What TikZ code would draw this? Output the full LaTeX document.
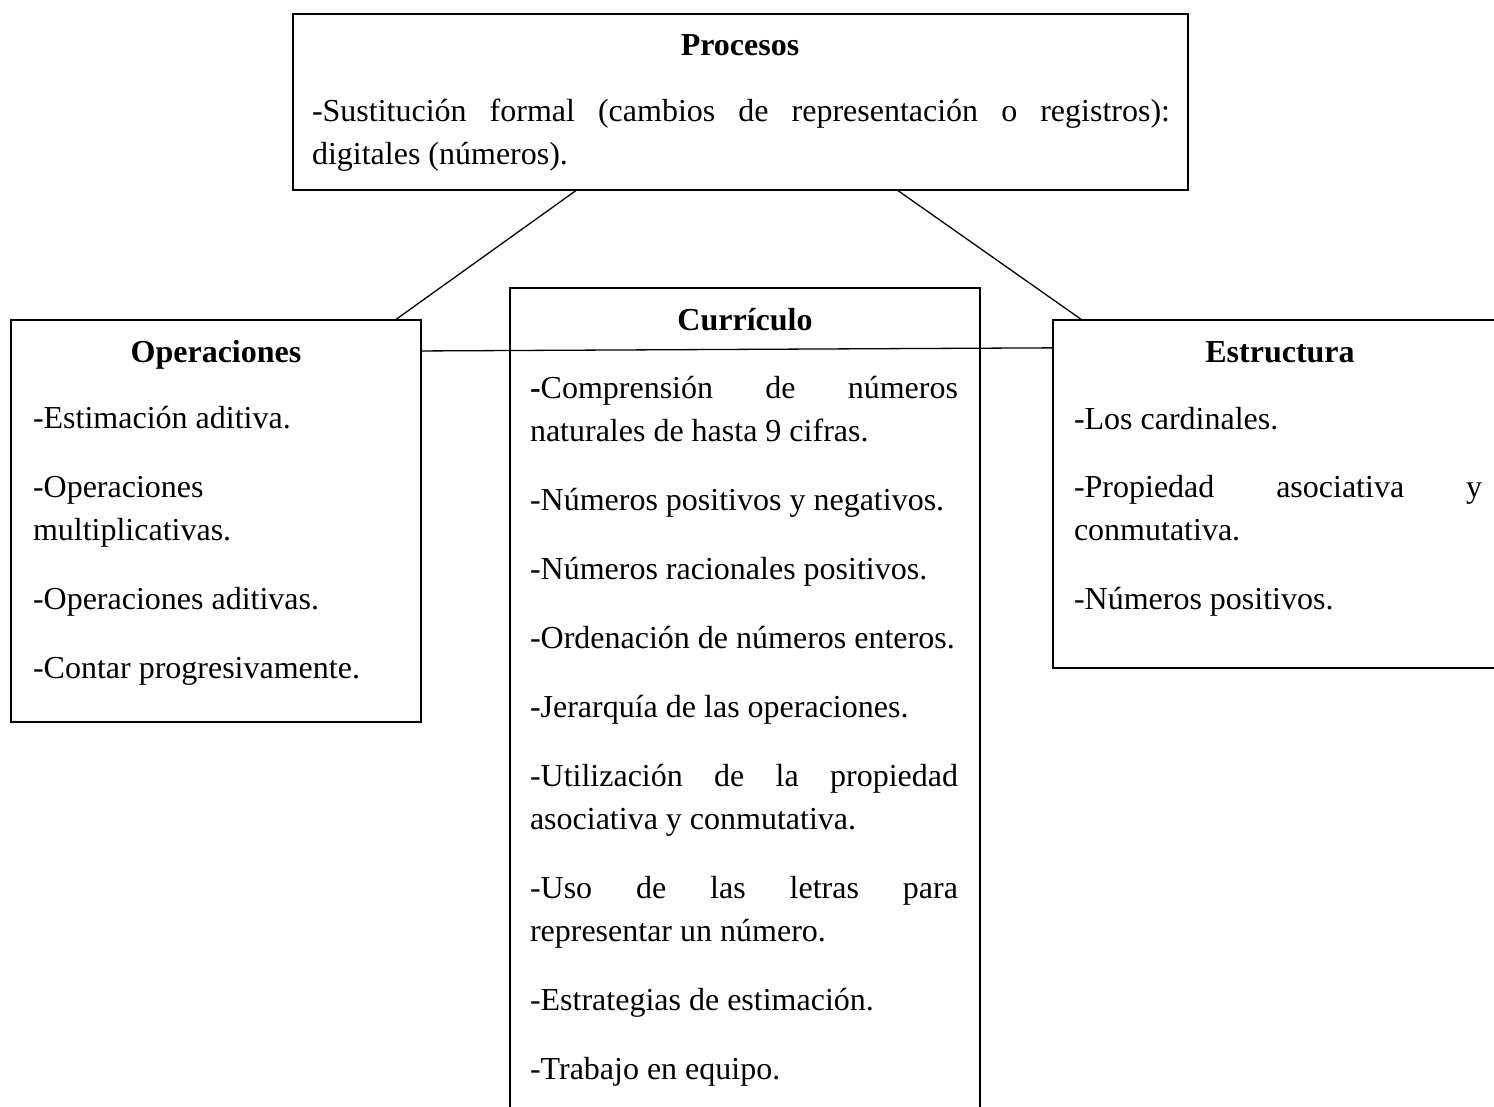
\documentclass[tikz,border=0pt]{standalone}
\usepackage{fontspec}
\setmainfont{Liberation Serif}
\usetikzlibrary{calc}
\tikzset{
  box/.style={draw=black, line width=1.6pt, inner sep=0pt, outer sep=0pt, anchor=north west},
  txt/.style={inner sep=0pt, outer sep=0pt, anchor=base west, font=\fontsize{32}{43}\selectfont},
  ttl/.style={inner sep=0pt, outer sep=0pt, anchor=base, font=\fontsize{32}{43}\selectfont\bfseries},
  link/.style={draw=black, line width=1.3pt}
}
\begin{document}
\begin{tikzpicture}[x=1pt,y=-1pt]
\useasboundingbox (0,0) rectangle (1494,1106);
\clip (0,0) rectangle (1494,1106);
% boxes
\node[box, minimum width=895pt, minimum height=176pt] (proc) at (293,14) {};
\node[box, minimum width=410pt, minimum height=402pt] (ops) at (11,320) {};
\node[box, minimum width=470pt, minimum height=850pt] (cur) at (510,288) {};
\node[box, minimum width=454pt, minimum height=348pt] (est) at (1053,320) {};
% connectors
\draw[link] ($(proc.south west)!0.317!(proc.south east)$) -- ($(ops.north west)!0.937!(ops.north east)$);
\draw[link] ($(proc.south west)!0.675!(proc.south east)$) -- ($(est.north west)!0.064!(est.north east)$);
\draw[link] ($(ops.north east)!0.077!(ops.south east)$) -- ($(est.north west)!0.080!(est.south west)$);
% Procesos
\node[ttl] (pt) at (740,55) {Procesos};
\node[txt] (p1) at (312,121) {\makebox[858pt][s]{-Sustitución formal (cambios de representación o registros):}};
\node[txt] (p2) at (312,164) {digitales (números).};
% Operaciones
\node[ttl] (ot) at (216,362) {Operaciones};
\node[txt] (o1) at (33,428) {-Estimación aditiva.};
\node[txt] (o2) at (33,497) {-Operaciones};
\node[txt] (o3) at (33,540) {multiplicativas.};
\node[txt] (o4) at (33,609) {-Operaciones aditivas.};
\node[txt] (o5) at (33,678) {-Contar progresivamente.};
% Curriculo
\node[ttl] (ct) at (745,330) {Currículo};
\node[txt] (c1) at (530,398) {\makebox[428pt][s]{{\bfseries -}Comprensión de números}};
\node[txt] (c2) at (530,441) {naturales de hasta 9 cifras.};
\node[txt] (c3) at (530,510) {-Números positivos y negativos.};
\node[txt] (c4) at (530,579) {-Números racionales positivos.};
\node[txt] (c5) at (530,648) {-Ordenación de números enteros.};
\node[txt] (c6) at (530,717) {-Jerarquía de las operaciones.};
\node[txt] (c7) at (530,786) {\makebox[428pt][s]{-Utilización de la propiedad}};
\node[txt] (c8) at (530,829) {asociativa y conmutativa.};
\node[txt] (c9) at (530,898) {\makebox[428pt][s]{-Uso de las letras para}};
\node[txt] (c10) at (530,941) {representar un número.};
\node[txt] (c11) at (530,1010) {-Estrategias de estimación.};
\node[txt] (c12) at (530,1079) {-Trabajo en equipo.};
% Estructura
\node[ttl] (et) at (1280,362) {Estructura};
\node[txt] (e1) at (1074,429) {-Los cardinales.};
\node[txt] (e2) at (1074,497) {\makebox[408pt][s]{-Propiedad asociativa y}};
\node[txt] (e3) at (1074,540) {conmutativa.};
\node[txt] (e4) at (1074,609) {-Números positivos.};
\end{tikzpicture}
\end{document}
